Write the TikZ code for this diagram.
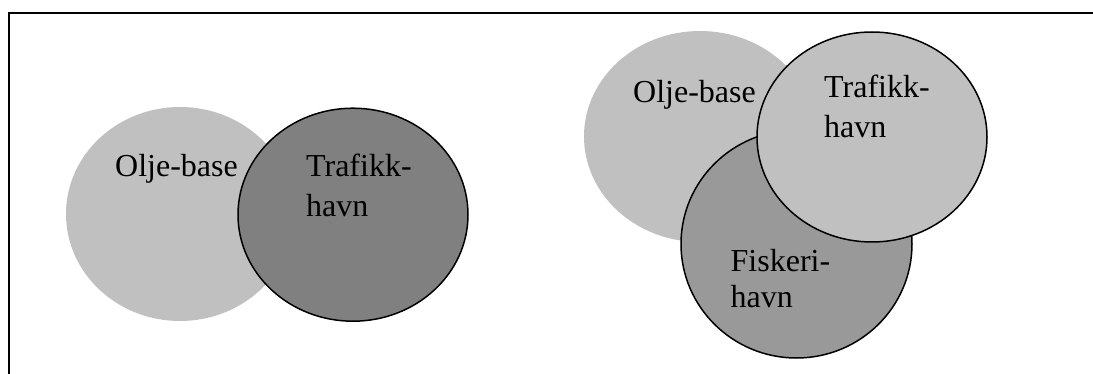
\documentclass[tikz,border=0pt]{standalone}
\usepackage{fontspec}
\setmainfont{Liberation Serif}
\definecolor{lightg}{HTML}{C0C0C0}
\definecolor{darkg}{HTML}{808080}
\definecolor{midg}{HTML}{999999}
\tikzset{
  lbl/.style={anchor=base west, inner sep=0pt, font=\fontsize{32}{38}\selectfont},
  blob/.style={fill=lightg, draw=none},
  ring/.style={draw=black, line width=1.5pt},
  frameline/.style={draw=black, line width=2pt}
}
\begin{document}
\begin{tikzpicture}[x=1pt, y=-1pt]
\useasboundingbox (0,0) rectangle (1093,374);
% frame (extends past the right and bottom edges)
\coordinate (fTR) at (1093,13);
\coordinate (fTL) at (9.3,13);
\coordinate (fBL) at (9.3,374);
\draw[frameline] (fTR) -- (fTL) -- (fBL);
% left group
\fill[blob] (180,214) ellipse [x radius=114, y radius=107];
\path[ring, fill=darkg] (353,214.7) ellipse [x radius=115, y radius=106.5];
\node[lbl] (oA) at (115,177) {Olje-base};
\node[lbl] (tA1) at (306,177) {Trafikk-};
\node[lbl] (tA2) at (306,217) {havn};
% right group
\fill[blob] (700,136.5) ellipse [x radius=116, y radius=105.5];
\path[ring, fill=midg] (796.5,244) ellipse [x radius=115.5, y radius=114];
\path[ring, fill=lightg] (872,137) ellipse [x radius=115, y radius=105];
\node[lbl] (oB) at (633,103) {Olje-base};
\node[lbl] (tB1) at (824,98) {Trafikk-};
\node[lbl] (tB2) at (824,138) {havn};
\node[lbl] (fB1) at (730.5,272) {Fiskeri-};
\node[lbl] (fB2) at (730.5,308) {havn};
\end{tikzpicture}
\end{document}
